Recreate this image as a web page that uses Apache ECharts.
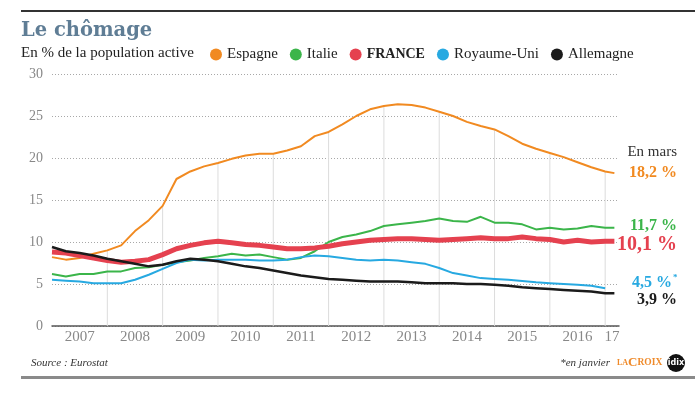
<!DOCTYPE html>
<html>
<head>
<meta charset="utf-8">
<script src="https://cdn.jsdelivr.net/npm/echarts@6/dist/echarts.min.js"></script>
<style>
  html, body { margin: 0; padding: 0; background: #fff; }
  #main { width: 695px; height: 398px; }
</style>
</head>
<body>
<div id="main"></div>
<script>
// dates (trimestriel) et taux de chômage en %
var dates = [
  '2007-01', '2007-04', '2007-07', '2007-10',
  '2008-01', '2008-04', '2008-07', '2008-10',
  '2009-01', '2009-04', '2009-07', '2009-10',
  '2010-01', '2010-04', '2010-07', '2010-10',
  '2011-01', '2011-04', '2011-07', '2011-10',
  '2012-01', '2012-04', '2012-07', '2012-10',
  '2013-01', '2013-04', '2013-07', '2013-10',
  '2014-01', '2014-04', '2014-07', '2014-10',
  '2015-01', '2015-04', '2015-07', '2015-10',
  '2016-01', '2016-04', '2016-07', '2016-10',
  '2017-01', '2017-03'
];
var espagne = [
  8.2, 7.9, 8.1, 8.6, 9.0, 9.6, 11.3, 12.6, 14.3, 17.5, 18.4, 19.0,
  19.4, 19.9, 20.3, 20.5, 20.5, 20.9, 21.4, 22.6, 23.1, 24.0, 25.0, 25.8,
  26.2, 26.4, 26.3, 26.0, 25.5, 25.0, 24.3, 23.8, 23.4, 22.6, 21.7, 21.1,
  20.6, 20.1, 19.5, 18.9, 18.4, 18.2
];
var italie = [
  6.2, 5.9, 6.2, 6.2, 6.5, 6.5, 6.9, 7.0, 7.3, 7.6, 7.8, 8.1,
  8.3, 8.6, 8.4, 8.5, 8.2, 7.9, 8.1, 8.9, 10.0, 10.6, 10.9, 11.3,
  11.9, 12.1, 12.3, 12.5, 12.8, 12.5, 12.4, 13.0, 12.3, 12.3, 12.1, 11.5,
  11.7, 11.5, 11.6, 11.9, 11.7, 11.7
];
var france = [
  8.8, 8.7, 8.4, 8.1, 7.8, 7.6, 7.7, 7.9, 8.5, 9.2, 9.6, 9.9,
  10.1, 9.9, 9.7, 9.6, 9.4, 9.2, 9.2, 9.3, 9.5, 9.8, 10.0, 10.2,
  10.3, 10.4, 10.4, 10.3, 10.2, 10.3, 10.4, 10.5, 10.4, 10.4, 10.6, 10.4,
  10.3, 10.0, 10.2, 10.0, 10.1, 10.1
];
var royaumeUni = [
  5.5, 5.4, 5.3, 5.1, 5.1, 5.1, 5.5, 6.1, 6.8, 7.5, 7.9, 7.8,
  7.9, 7.9, 7.9, 7.8, 7.8, 7.9, 8.2, 8.4, 8.3, 8.1, 7.9, 7.8,
  7.9, 7.8, 7.6, 7.4, 6.9, 6.3, 6.0, 5.7, 5.6, 5.5, 5.35, 5.2,
  5.1, 5.0, 4.9, 4.8, 4.5, null
];
var allemagne = [
  9.4, 8.9, 8.7, 8.4, 8.0, 7.7, 7.4, 7.1, 7.3, 7.7, 8.0, 7.9,
  7.7, 7.4, 7.1, 6.9, 6.6, 6.3, 6.0, 5.8, 5.6, 5.5, 5.4, 5.3,
  5.3, 5.3, 5.2, 5.1, 5.1, 5.1, 5.0, 5.0, 4.9, 4.8, 4.6, 4.5,
  4.4, 4.3, 4.2, 4.1, 3.9, 3.9
];
var annees = ['2007', '2008', '2009', '2010', '2011', '2012', '2013', '2014', '2015', '2016', '17'];
var pays = ['Espagne', 'Italie', 'FRANCE', 'Royaume-Uni', 'Allemagne'];
var couleurs = ['#f18a21', '#3bb54a', '#e5414f', '#27a9e1', '#1b1b1b'];
var valeurs = [espagne, italie, france, royaumeUni, allemagne];

var serif = '"Liberation Serif", "DejaVu Serif", serif';
var xMin = 2007, xMax = 2017.25;

function toYear(d) {
  var p = d.split('-');
  return +p[0] + (p[1] - 1) / 12;
}
function pairs(vals) {
  return dates.map(function (d, i) { return [toYear(d), vals[i]]; });
}

// étiquettes d'années au milieu de chaque année (la dernière, partielle, au milieu de son trimestre)
var posAnnees = annees.map(function (a, i) {
  var debut = xMin + i;
  return (debut + Math.min(debut + 1, xMax)) / 2;
});

// traits verticaux : de l'axe jusqu'à la courbe espagnole, chaque janvier
var traits = [];
dates.forEach(function (d, i) {
  if (d.slice(5) === '01' && d !== '2007-01') traits.push([toYear(d), espagne[i]]);
});

var chart = echarts.init(document.getElementById('main'));

var series = [{
  type: 'bar',
  data: traits,
  barWidth: 1,
  itemStyle: { color: '#dcdcdc' },
  silent: true,
  z: 1
}];
pays.forEach(function (p, k) {
  series.push({
    name: p,
    type: 'line',
    data: pairs(valeurs[k]),
    symbol: 'none',
    color: couleurs[k],
    lineStyle: { width: p === 'FRANCE' ? 5 : (p === 'Allemagne' ? 2.5 : 2), color: couleurs[k] },
    z: 3
  });
});

var option = {
  backgroundColor: '#fff',
  animation: false,
  grid: { left: 52, right: 76, top: 74, bottom: 72 },
  legend: {
    data: pays,
    left: 205,
    top: 42,
    icon: 'circle',
    itemWidth: 12,
    itemHeight: 12,
    itemGap: 12,
    textStyle: {
      fontFamily: serif, fontSize: 15, color: '#222',
      rich: { b: { fontFamily: serif, fontSize: 14, fontWeight: 'bold', color: '#222' } }
    },
    formatter: function (name) {
      return name === 'FRANCE' ? '{b|FRANCE}' : name;
    }
  },
  xAxis: {
    type: 'value',
    min: xMin,
    max: xMax,
    axisLine: { show: true, lineStyle: { color: '#555', width: 1.5 } },
    axisTick: { show: false },
    axisLabel: {
      color: '#888', fontSize: 15, fontFamily: serif, margin: 4,
      customValues: posAnnees,
      formatter: function (v) {
        for (var i = 0; i < posAnnees.length; i++) {
          if (Math.abs(posAnnees[i] - v) < 1e-6) return annees[i];
        }
        return '';
      }
    },
    splitLine: { show: false }
  },
  yAxis: {
    type: 'value',
    min: 0,
    max: 30,
    interval: 5,
    axisLine: { show: false },
    axisTick: { show: false },
    axisLabel: { color: '#888', fontSize: 14, fontFamily: serif, margin: 9 },
    splitLine: { lineStyle: { type: [1, 2], color: '#a8a8a8', width: 1 } }
  },
  series: series
};
chart.setOption(option);

// étiquettes de fin (valeur de mars, ou de janvier pour le Royaume-Uni)
var decalage = { 'Espagne': 0, 'Italie': -2, 'FRANCE': 4, 'Royaume-Uni': -5, 'Allemagne': 7 };
var graphics = [
  { type: 'rect', shape: { x: 21, y: 10, width: 674, height: 2 }, style: { fill: '#333' } },
  { type: 'text', x: 21, y: 31, style: { text: 'Le chômage', font: 'bold 19.5px "DejaVu Serif", serif', fill: '#5f7d95', verticalAlign: 'middle' } },
  { type: 'text', x: 21, y: 53, style: { text: 'En % de la population active', font: '15px ' + serif, fill: '#222', verticalAlign: 'middle' } },
  { type: 'text', x: 677, y: 152, style: { text: 'En mars', font: '15px ' + serif, fill: '#333', align: 'right', verticalAlign: 'middle' } },
  { type: 'text', x: 31, y: 363, style: { text: 'Source : Eurostat', font: 'italic 11px ' + serif, fill: '#333', verticalAlign: 'middle' } },
  { type: 'text', x: 610, y: 363, style: { text: '*en janvier', font: 'italic 11px ' + serif, fill: '#333', align: 'right', verticalAlign: 'middle' } },
  { type: 'text', x: 617, y: 363, style: {
      text: '{a|LA}{b|C}{c|ROIX}', verticalAlign: 'middle',
      rich: {
        a: { font: 'bold 8px ' + serif, fill: '#ef8a2a' },
        b: { font: 'bold 13px ' + serif, fill: '#ef8a2a' },
        c: { font: 'bold 9.5px ' + serif, fill: '#ef8a2a' }
      }
  } },
  { type: 'circle', shape: { cx: 676, cy: 363, r: 9 }, style: { fill: '#111' } },
  { type: 'text', x: 676, y: 363, style: { text: 'idix', font: 'bold 8px "DejaVu Sans", sans-serif', fill: '#fff', align: 'center', verticalAlign: 'middle' } },
  { type: 'rect', shape: { x: 21, y: 376, width: 674, height: 3 }, style: { fill: '#8a8a8a' } }
];
pays.forEach(function (p, k) {
  var vals = valeurs[k];
  var i = vals.length - 1;
  while (vals[i] == null) i--;
  var pt = chart.convertToPixel({ xAxisIndex: 0, yAxisIndex: 0 }, [toYear(dates[i]), vals[i]]);
  var txt = vals[i].toFixed(1).replace('.', ',') + ' %';
  var big = p === 'FRANCE';
  var right = p === 'Royaume-Uni' ? 672 : 677;
  graphics.push({
    type: 'text', x: right, y: pt[1] + decalage[p],
    style: {
      text: txt, font: 'bold ' + (big ? 20 : 16) + 'px ' + serif,
      fill: couleurs[k], align: 'right', verticalAlign: 'middle'
    }
  });
  if (p === 'Royaume-Uni') {
    graphics.push({
      type: 'text', x: 673, y: pt[1] + decalage[p] - 6,
      style: { text: '*', font: 'bold 9px ' + serif, fill: couleurs[k], verticalAlign: 'middle' }
    });
  }
});
chart.setOption({ graphic: graphics });
</script>
</body>
</html>
